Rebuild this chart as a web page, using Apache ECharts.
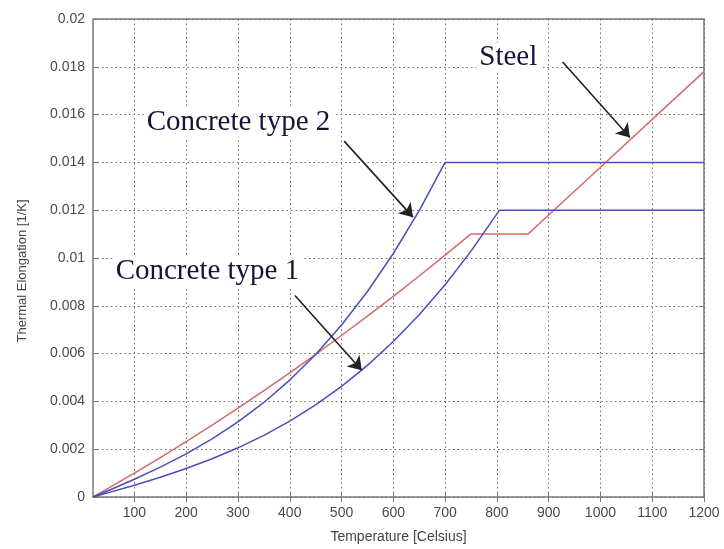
<!DOCTYPE html>
<html>
<head>
<meta charset="utf-8">
<script src="https://cdn.jsdelivr.net/npm/echarts@6/dist/echarts.min.js"></script>
<style>
    html, body { margin: 0; padding: 0; background: #fff; }
    #chart { width: 724px; height: 549px; }
</style>
</head>
<body>
<div id="chart"></div>
<script>
// temperatures [Celsius] and thermal elongation
var steelTemp = [20, 50, 100, 150, 200, 250, 300, 350, 400, 450, 500, 550, 600, 650, 700, 750, 860, 900, 1000, 1100, 1200]
var steelElong = [0, 0.000368, 0.000998, 0.001648, 0.002318, 0.003008, 0.003718, 0.004448, 0.005198, 0.005968,
    0.006758, 0.007568, 0.008398, 0.009248, 0.010118, 0.011008, 0.011, 0.0118, 0.0138, 0.0158, 0.0178]

var conc2Temp = [20, 50, 100, 150, 200, 250, 300, 350, 400, 450, 500, 550, 600, 650, 700, 1200]
var conc2Elong = [0, 0.000273, 0.000743, 0.001248, 0.001804, 0.002429, 0.003141, 0.003956, 0.004892, 0.005966,
    0.007195, 0.008597, 0.010188, 0.011986, 0.014, 0.014]

var conc1Temp = [20, 50, 100, 150, 200, 250, 300, 350, 400, 450, 500, 550, 600, 650, 700, 750, 800, 805, 1200]
var conc1Elong = [0, 0.000182, 0.000494, 0.000827, 0.001192, 0.001599, 0.002058, 0.00258, 0.003176, 0.003856,
    0.00463, 0.005509, 0.006504, 0.007625, 0.008882, 0.010286, 0.011848, 0.012, 0.012]

var xTicks = [100, 200, 300, 400, 500, 600, 700, 800, 900, 1000, 1100, 1200]

// annotations (data coordinates)
var labelNames = ['Steel', 'Concrete type 2', 'Concrete type 1']
var labelAt = [[822, 0.01838], [301, 0.01567], [241, 0.00942]]
var arrowFrom = [[927, 0.0182], [505, 0.01489], [410, 0.00843]]
var arrowTo = [[1057, 0.01504], [638, 0.01171], [539, 0.0053]]

function pairs(xs, ys) {
    return xs.map(function (x, i) { return [x, ys[i]] })
}

var myChart = echarts.init(document.getElementById('chart'))

var tickLabel = { color: '#4a4a4a', fontSize: 14, fontFamily: 'Liberation Sans, Arial, sans-serif' }
var gridDots = { show: true, lineStyle: { color: '#6a6a6a', type: [1.5, 3], width: 1 } }

var option = {
    animation: false,
    grid: {
        left: 93, right: 20, top: 19, bottom: 50,
        show: true, borderColor: '#7a7a7a', borderWidth: 1.5, backgroundColor: '#fff'
    },
    xAxis: [
        {
            type: 'value', min: 20, max: 1200,
            name: 'Temperature [Celsius]', nameLocation: 'middle', nameGap: 33,
            nameTextStyle: { color: '#444', fontSize: 14, fontFamily: 'Liberation Sans, Arial, sans-serif' },
            axisLine: { show: false },
            axisTick: { show: true, inside: true, length: 5, customValues: xTicks, lineStyle: { color: '#7a7a7a' } },
            axisLabel: Object.assign({
                customValues: xTicks, margin: 9,
                formatter: function (v) { return String(v) }
            }, tickLabel),
            splitLine: gridDots
        },
        {
            type: 'value', min: 20, max: 1200, position: 'top',
            axisLine: { show: false },
            axisTick: { show: true, inside: true, length: 5, customValues: xTicks, lineStyle: { color: '#7a7a7a' } },
            axisLabel: { show: false },
            splitLine: { show: false }
        }
    ],
    yAxis: [
        {
            type: 'value', min: 0, max: 0.02, interval: 0.002,
            name: 'Thermal Elongation [1/K]', nameLocation: 'middle', nameGap: 64, nameRotate: 90,
            nameTextStyle: { color: '#444', fontSize: 13, fontFamily: 'Liberation Sans, Arial, sans-serif', padding: [0, 26, 0, 0] },
            axisLine: { show: false },
            axisTick: { show: true, inside: true, length: 5, lineStyle: { color: '#7a7a7a' } },
            axisLabel: Object.assign({ margin: 8 }, tickLabel),
            splitLine: gridDots
        },
        {
            type: 'value', min: 0, max: 0.02, interval: 0.002, position: 'right',
            axisLine: { show: false },
            axisTick: { show: true, inside: true, length: 5, lineStyle: { color: '#7a7a7a' } },
            axisLabel: { show: false },
            splitLine: { show: false }
        }
    ],
    series: [
        {
            name: 'Steel', type: 'line', showSymbol: false,
            lineStyle: { color: '#d46a6a', width: 1.5 },
            data: pairs(steelTemp, steelElong),
            markLine: {
                silent: true,
                symbol: ['none', 'arrow'],
                symbolSize: 13,
                label: { show: false },
                lineStyle: { color: '#222', width: 1.6, type: 'solid' },
                itemStyle: { color: '#111' },
                data: arrowFrom.map(function (p, i) {
                    return [{ coord: p }, { coord: arrowTo[i] }]
                })
            },
            markPoint: {
                silent: true,
                symbol: 'rect',
                symbolSize: 1,
                itemStyle: { color: 'rgba(0,0,0,0)' },
                label: {
                    show: true, position: 'inside', formatter: '{b}',
                    color: '#15153a', fontSize: 29, fontFamily: 'Liberation Serif, Times New Roman, serif',
                    backgroundColor: '#fff', padding: [1, 3]
                },
                data: labelNames.map(function (n, i) {
                    return { name: n, coord: labelAt[i] }
                })
            }
        },
        {
            name: 'Concrete type 2', type: 'line', showSymbol: false,
            lineStyle: { color: '#4d4dbf', width: 1.5 },
            data: pairs(conc2Temp, conc2Elong)
        },
        {
            name: 'Concrete type 1', type: 'line', showSymbol: false,
            lineStyle: { color: '#4d4dbf', width: 1.5 },
            data: pairs(conc1Temp, conc1Elong)
        }
    ]
}

myChart.setOption(option)
window.addEventListener('resize', function () {
    myChart.resize()
})
</script>
</body>
</html>
